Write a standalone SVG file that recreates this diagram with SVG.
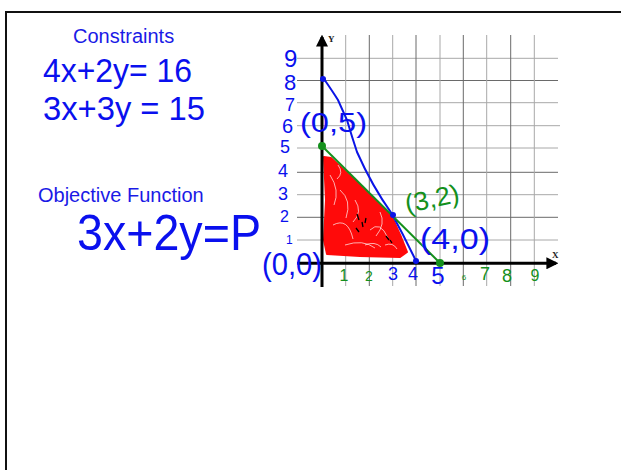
<svg xmlns="http://www.w3.org/2000/svg" width="621" height="470" viewBox="0 0 621 470">
<defs>
<style>
.typed{font-family:"Liberation Sans",Arial,sans-serif;fill:#1a1ae6}
.hand{font-family:"Liberation Sans",Arial,sans-serif;fill:#0a10ee}
.gh{font-family:"Liberation Sans",Arial,sans-serif;fill:#14901c}
.gl{stroke:#a8a8a8;stroke-width:1}
.gd{stroke:#6a6a6a;stroke-width:1}
.ax{stroke:#000;stroke-width:3;fill:none}
.axl{font-family:"Liberation Serif","Times New Roman",serif;font-size:9px;font-weight:bold;fill:#222}
</style>
<marker id="ah" viewBox="0 0 10 10" refX="8" refY="5" markerWidth="4" markerHeight="4" orient="auto"><path d="M0,0 L10,5 L0,10 z" fill="#000"/></marker>
</defs>
<rect width="621" height="470" fill="#fff"/>
<rect x="6" y="12" width="700" height="600" fill="none" stroke="#111" stroke-width="2"/>

<g id="title-constraints"><text class="typed" x="73" y="43" font-size="20">Constraints</text></g>
<g id="eq1"><text class="hand" x="43" y="82" font-size="33" textLength="149" lengthAdjust="spacingAndGlyphs">4x+2y= 16</text></g>
<g id="eq2"><text class="hand" x="43" y="120" font-size="33" textLength="162" lengthAdjust="spacingAndGlyphs">3x+3y = 15</text></g>
<g id="title-objective"><text class="typed" x="38" y="202" font-size="20">Objective Function</text></g>
<g id="objective"><text class="hand" x="77" y="250" font-size="50" textLength="184" lengthAdjust="spacingAndGlyphs">3x+2y=P</text></g>

<g id="grid">
<line class="gl" x1="297" y1="240" x2="558" y2="240"/>
<line class="gd" x1="297" y1="217.3" x2="558" y2="217.3"/>
<line class="gl" x1="297" y1="194.7" x2="558" y2="194.7"/>
<line class="gd" x1="297" y1="172.3" x2="558" y2="172.3"/>
<line class="gl" x1="297" y1="148" x2="558" y2="148"/>
<line class="gl" x1="297" y1="125.7" x2="560" y2="125.7"/>
<line class="gl" x1="297" y1="102.7" x2="558" y2="102.7"/>
<line class="gd" x1="297" y1="80.5" x2="558" y2="80.5"/>
<line class="gl" x1="297" y1="58.3" x2="558" y2="58.3"/>
<line class="gl" x1="345.7" y1="35" x2="345.7" y2="286"/>
<line class="gd" x1="369.3" y1="35" x2="369.3" y2="286"/>
<line class="gl" x1="392.7" y1="35" x2="392.7" y2="286"/>
<line class="gd" x1="416" y1="35" x2="416" y2="286"/>
<line class="gl" x1="440" y1="35" x2="440" y2="286"/>
<line class="gd" x1="463.3" y1="35" x2="463.3" y2="286"/>
<line class="gl" x1="486.7" y1="35" x2="486.7" y2="286"/>
<line class="gd" x1="510.7" y1="35" x2="510.7" y2="286"/>
<line class="gl" x1="534.3" y1="35" x2="534.3" y2="286"/>
</g>

<g id="feasible-region">
<path d="M324,157 L331,158 L362,187 L392,217 L401,237 L407,252 L400,257 L360,256 L327,254 L324,240 L326,200 Z" fill="#ff0a0a" stroke="#ff0a0a" stroke-width="2" stroke-linejoin="round"/>
<path d="M330,175 q10,15 4,30 M340,190 q12,10 6,28 M333,225 q15,-8 20,14 M345,245 q18,-6 30,3 M370,230 q10,-10 18,8 M355,200 q8,12 -2,22 M380,212 q6,12 -4,24 M338,165 q6,8 -1,14 M365,245 q10,-4 16,2 M385,245 q8,-3 12,4" fill="none" stroke="#fff" stroke-width="0.9" opacity="0.75"/>
<path d="M357,214 l2,6 M362,222 l1,5 M356,228 l3,4 M366,218 l-1,5 M386,236 l3,4 M390,240 l2,3" stroke="#000" stroke-width="1.3" fill="none"/>
</g>

<g id="axes">
<line class="ax" x1="322" y1="287" x2="322" y2="37" marker-end="url(#ah)"/>
<line class="ax" x1="297" y1="263.3" x2="556" y2="263.3" marker-end="url(#ah)"/>
<text class="axl" x="328" y="42">Y</text>
<text class="axl" x="552" y="258">X</text>
</g>

<g id="connectors">
<path d="M324,79 Q333,92 338,100 L347,120 Q352,137 357,152 Q372,186 392,214 Q404,236 416,261" fill="none" stroke="#0a14e6" stroke-width="2" stroke-linecap="round"/>
<line x1="322" y1="146" x2="440" y2="263" stroke="#14901c" stroke-width="2"/>
</g>

<g id="points">
<circle cx="323" cy="79" r="3" fill="#0a14e6"/>
<circle cx="393" cy="215" r="3" fill="#0a14e6"/>
<circle cx="416" cy="261" r="3" fill="#0a14e6"/>
<circle cx="322" cy="146" r="4" fill="#14901c"/>
<circle cx="440" cy="263" r="4" fill="#14901c"/>
</g>

<g id="y-labels">
<text class="hand" x="284" y="67" font-size="24">9</text>
<text class="hand" x="284" y="90" font-size="22">8</text>
<text class="hand" x="285" y="111" font-size="18">7</text>
<text class="hand" x="282" y="133" font-size="20">6</text>
<text class="hand" x="280" y="153" font-size="18">5</text>
<text class="hand" x="278" y="177" font-size="18">4</text>
<text class="hand" x="278" y="200" font-size="18">3</text>
<text class="hand" x="280" y="222" font-size="16">2</text>
<text class="hand" x="286" y="244" font-size="12">1</text>
</g>

<g id="x-labels">
<text class="gh" x="344" y="281" font-size="16" text-anchor="middle">1</text>
<text class="gh" x="369" y="281" font-size="14" text-anchor="middle">2</text>
<text class="hand" x="393" y="280" font-size="18" text-anchor="middle">3</text>
<text class="hand" x="413" y="280" font-size="18" text-anchor="middle">4</text>
<text class="hand" x="438" y="284" font-size="24" text-anchor="middle">5</text>
<text class="gh" x="464" y="280" font-size="8" text-anchor="middle">6</text>
<text class="gh" x="485" y="280" font-size="18" text-anchor="middle">7</text>
<text class="gh" x="507" y="282" font-size="18" text-anchor="middle">8</text>
<text class="gh" x="535" y="281" font-size="16" text-anchor="middle">9</text>
</g>

<g id="point-labels">
<text class="hand" x="300" y="132" font-size="28" textLength="67" lengthAdjust="spacingAndGlyphs">(0,5)</text>
<text class="hand" x="262" y="275" font-size="32" textLength="60" lengthAdjust="spacingAndGlyphs">(0,0)</text>
<text class="hand" x="420" y="249" font-size="30" textLength="70" lengthAdjust="spacingAndGlyphs">(4,0)</text>
<text class="gh" x="407" y="213" font-size="26" textLength="55" lengthAdjust="spacingAndGlyphs" transform="rotate(-12 407 213)">(3,2)</text>
</g>
</svg>
